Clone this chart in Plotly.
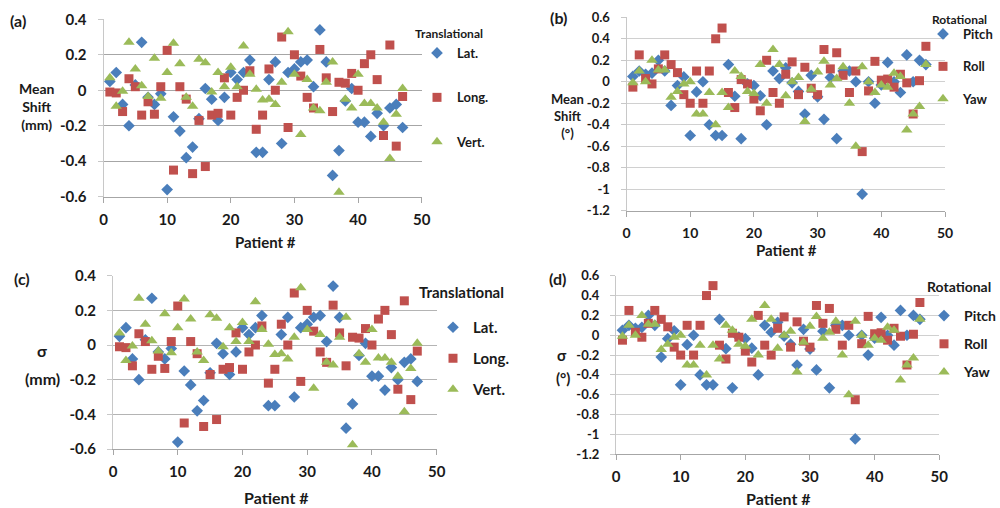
import plotly.graph_objects as go

patients = list(range(1, 48))

# Translational mean shift (mm)
lat_mm = [0.05, 0.10, -0.08, -0.20, 0.03, 0.27, -0.04, -0.08, -0.02, -0.56,
          -0.15, -0.23, -0.38, -0.32, -0.16, 0.01, -0.05, -0.17, -0.04, 0.10,
          0.06, 0.10, 0.17, -0.35, -0.35, 0.06, 0.16, -0.30, 0.10, 0.12,
          0.16, 0.17, 0.02, 0.34, 0.16, -0.48, -0.34, -0.06, 0.01, -0.18,
          -0.18, -0.26, -0.13, -0.20, -0.10, -0.08, -0.21]
long_mm = [-0.01, -0.015, -0.12, 0.065, 0.02, -0.14, -0.065, -0.135, 0.02, 0.225,
           -0.45, 0.02, -0.05, -0.47, -0.17, -0.43, -0.14, -0.13, 0.07, -0.14,
           -0.04, 0.0, 0.11, -0.22, -0.14, 0.12, 0.0, 0.30, -0.21, 0.20,
           0.08, -0.04, -0.10, 0.23, 0.07, -0.12, 0.045, 0.04, 0.095, 0.0,
           0.15, 0.20, 0.06, -0.255, 0.255, -0.315, -0.035]
vert_mm = [0.07, -0.09, -0.005, 0.27, 0.12, 0.025, -0.035, 0.18, -0.045, 0.10,
           0.265, 0.15, -0.04, -0.09, 0.175, 0.155, -0.01, 0.10, 0.02, 0.13,
           0.02, 0.25, 0.09, 0.005, -0.055, -0.05, -0.08, 0.045, 0.33, 0.09,
           -0.25, 0.06, -0.10, -0.115, 0.045, 0.16, -0.575, -0.05, -0.10, 0.09,
           -0.075, -0.075, -0.10, -0.18, -0.385, -0.135, 0.01]

# Rotational mean shift (deg)
pitch_deg = [0.05, 0.10, 0.07, 0.08, 0.20, 0.10, -0.22, -0.035, 0.045, -0.50,
             -0.095, 0.0, -0.40, -0.50, -0.50, 0.16, -0.135, -0.53, -0.02, -0.035,
             -0.13, -0.40, 0.10, 0.03, 0.13, -0.01, -0.09, -0.30, 0.06, -0.14,
             -0.35, 0.04, -0.53, 0.10, 0.10, 0.0, -1.045, 0.0, -0.20, -0.03,
             0.18, 0.0, -0.10, 0.25, 0.0, 0.20, 0.16]
roll_deg = [-0.05, 0.25, 0.03, -0.02, 0.12, 0.25, 0.16, 0.085, -0.12, -0.20,
            0.10, -0.20, 0.10, 0.40, 0.50, -0.10, -0.24, 0.02, -0.02, -0.16,
            -0.27, 0.20, -0.10, -0.20, 0.07, 0.185, -0.12, 0.135, -0.06, -0.12,
            0.30, 0.12, 0.27, 0.06, -0.10, 0.10, -0.65, -0.085, 0.19, 0.015,
            0.025, -0.05, 0.07, -0.01, -0.30, 0.01, 0.33]
yaw_deg = [-0.01, 0.10, 0.0, 0.20, 0.11, 0.11, -0.145, -0.09, -0.02, 0.0,
           -0.30, -0.30, -0.10, -0.40, -0.10, -0.24, 0.10, 0.05, -0.09, -0.11,
           0.16, -0.20, 0.30, 0.16, -0.13, 0.0, 0.04, -0.37, -0.07, 0.09,
           0.19, -0.03, 0.03, 0.14, -0.20, -0.60, 0.14, 0.0, -0.10, -0.03,
           -0.05, 0.08, 0.05, -0.45, -0.30, -0.23, 0.16]

# Sigma panels (values as plotted in the reference)
sigma_lat, sigma_long, sigma_vert = lat_mm, long_mm, vert_mm
sigma_pitch, sigma_roll, sigma_yaw = pitch_deg, roll_deg, yaw_deg

x_ticks = [0, 10, 20, 30, 40, 50]
trans_ticks = [-0.6, -0.4, -0.2, 0, 0.2, 0.4]
trans_text = ["-0.6", "-0.4", "-0.2", "0", "0.2", "0.4"]
rot_ticks = [-1.2, -1.0, -0.8, -0.6, -0.4, -0.2, 0, 0.2, 0.4, 0.6]
rot_text = ["-1.2", "-1", "-0.8", "-0.6", "-0.4", "-0.2", "0", "0.2", "0.4", "0.6"]

BLUE = "#4A7EBB"
RED = "#C0504D"
GREEN = "#9BBB59"
FONT = "Lato"

W, H = 1000, 508


def px(xp):
    return xp / W


def py(yp):
    return 1 - yp / H


fig = go.Figure()

panels = [
    ("x", "y", "legend", ["Lat.", "Long.", "Vert."], [lat_mm, long_mm, vert_mm]),
    ("x2", "y2", "legend2", ["Pitch", "Roll", "Yaw"], [pitch_deg, roll_deg, yaw_deg]),
    ("x3", "y3", "legend3", ["Lat.", "Long.", "Vert."], [sigma_lat, sigma_long, sigma_vert]),
    ("x4", "y4", "legend4", ["Pitch", "Roll", "Yaw"], [sigma_pitch, sigma_roll, sigma_yaw]),
]
symbols = ["diamond", "square", "triangle-up"]
colors = [BLUE, RED, GREEN]
msizes = [9, 9, 10]

for xa, ya, lg, names, arrays in panels:
    for i in range(3):
        fig.add_trace(go.Scatter(
            x=patients, y=arrays[i], mode="markers", name=names[i],
            xaxis=xa, yaxis=ya, legend=lg, legendgroup=lg + names[i],
            cliponaxis=False,
            marker=dict(symbol=symbols[i], color=colors[i], size=msizes[i],
                        line=dict(width=0)),
        ))


def xax(dom, fs):
    return dict(domain=dom, range=[0, 50], tickvals=x_ticks, showgrid=False,
                zeroline=False, showline=True, linecolor="#A6A6A6", linewidth=1,
                ticks="outside", ticklen=5, tickcolor="#A6A6A6",
                tickfont=dict(family=FONT, size=fs, color="#1a1a1a", weight="bold"),
                ticklabelstandoff=4)


def yax(dom, rng, tv, tt, fs, grid, anchor):
    return dict(domain=dom, range=rng, tickvals=tv, ticktext=tt, showgrid=True,
                gridcolor=grid, gridwidth=1, zeroline=False, showline=True,
                linecolor="#C8C8C8", ticks="outside", ticklen=5, tickcolor="#C8C8C8",
                tickfont=dict(family=FONT, size=fs, color="#1a1a1a", weight="bold"),
                ticklabelstandoff=8, anchor=anchor)


fig.update_layout(
    width=W, height=H, margin=dict(l=0, r=0, t=0, b=0, autoexpand=False),
    paper_bgcolor="white", plot_bgcolor="white",
    xaxis=dict(xax([px(103.5), px(421.7)], 15), anchor="y"),
    yaxis=yax([py(196.7), py(19.3)], [-0.6, 0.4], trans_ticks, trans_text, 15, "#A6A6A6", "x"),
    xaxis2=dict(xax([px(626.5), px(945)], 14), anchor="y2"),
    yaxis2=yax([py(210.7), py(17.3)], [-1.2, 0.6], rot_ticks, rot_text, 13, "#D0D0D0", "x2"),
    xaxis3=dict(xax([px(113), px(436.7)], 15), anchor="y3"),
    yaxis3=yax([py(449), py(275.7)], [-0.6, 0.4], trans_ticks, trans_text, 15, "#B4B4B4", "x3"),
    xaxis4=dict(xax([px(616), px(939.3)], 15), anchor="y4"),
    yaxis4=yax([py(454.3), py(275.7)], [-1.2, 0.6], rot_ticks, rot_text, 13, "#D0D0D0", "x4"),
)


def legend_cfg(x, y, fs, gap):
    return dict(x=px(x), y=py(y), xanchor="left", yanchor="top",
                bgcolor="rgba(0,0,0,0)", borderwidth=0, tracegroupgap=gap,
                font=dict(family=FONT, size=fs, color="#1a1a1a", weight="bold"),
                itemwidth=30)


fig.update_layout(
    legend=legend_cfg(417, 38, 13, 24.5),
    legend2=legend_cfg(923, 19, 13, 12.5),
    legend3=legend_cfg(433, 311, 15, 8.5),
    legend4=legend_cfg(924, 300, 14, 7),
)

annos = [
    ("(a)", 18, 20, 16, "center"),
    ("(b)", 558, 17, 16, "center"),
    ("(c)", 22, 278, 16, "center"),
    ("(d)", 557, 278, 16, "center"),
    ("Translational", 413, 33, 12, "left"),
    ("Rotational", 930, 19, 12, "left"),
    ("Translational", 417, 292, 15, "left"),
    ("Rotational", 925, 286, 14, "left"),
    ("Patient #", 265, 242, 15, "center"),
    ("Patient #", 786, 250, 15, "center"),
    ("Patient #", 276, 497, 16, "center"),
    ("Patient #", 778, 498, 16, "center"),
    ("Mean<br>Shift<br>(mm)", 37, 107, 14, "center"),
    ("Mean<br>Shift<br>(°)", 567, 116, 13, "center"),
    ("σ", 42, 350, 16, "center"),
    ("(mm)", 42, 378, 16, "center"),
    ("σ", 562, 355, 15, "center"),
    ("(°)", 563, 378, 15, "center"),
]
for text, xp, yp, fs, anchor in annos:
    fig.add_annotation(text=text, x=px(xp), y=py(yp), xref="paper", yref="paper",
                       xanchor=anchor, yanchor="middle", showarrow=False,
                       font=dict(family=FONT, size=fs, color="#1a1a1a", weight="bold"))

fig.write_html("out.html")
